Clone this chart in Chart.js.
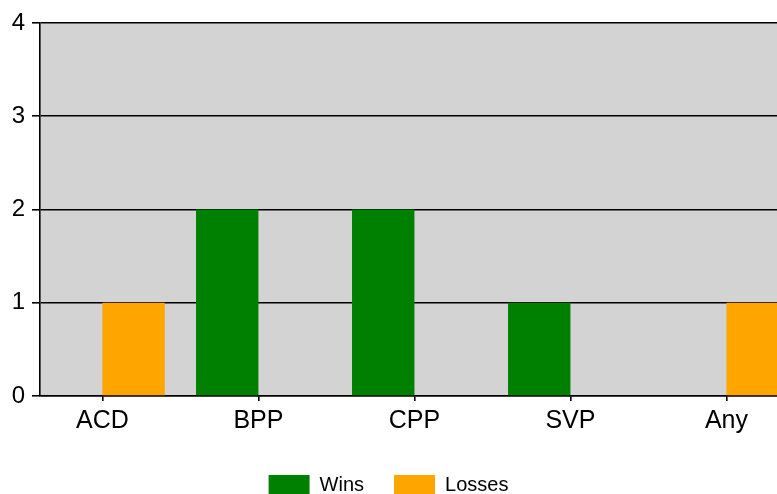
<!DOCTYPE html>
<html>
<head>
<meta charset="utf-8">
<script src="https://cdn.jsdelivr.net/npm/chart.js@4"></script>
<style>
  html, body { margin:0; padding:0; background:#fff; overflow:hidden; }
  #wrap { width:777px; height:505px; position:relative; }
</style>
</head>
<body>
<div id="wrap"><canvas id="c"></canvas></div>
<script>
// values
const categories = ["ACD", "BPP", "CPP", "SVP", "Any"];
const wins = [0, 2, 2, 1, 0];
const losses = [1, 0, 0, 0, 1];
const yTicks = [0, 1, 2, 3, 4];

const FONT = "'Liberation Sans', Arial, sans-serif";

const plotBg = {
  id: "plotBg",
  beforeDraw(chart) {
    const {ctx, chartArea:a} = chart;
    ctx.save();
    ctx.fillStyle = "#d3d3d3";
    ctx.fillRect(a.left, a.top, a.right - a.left, a.bottom - a.top);
    ctx.restore();
  }
};

const toPoints = vals => categories.map((c, i) => ({x:i, y:vals[i]}));

new Chart(document.getElementById("c"), {
  type:"bar",
  data:{
    datasets:[
      {label:"Wins", data:toPoints(wins), backgroundColor:"#008000", borderWidth:0},
      {label:"Losses", data:toPoints(losses), backgroundColor:"#ffa500", borderWidth:0}
    ]
  },
  options:{
    responsive:true, maintainAspectRatio:false, animation:false, devicePixelRatio:1,
    categoryPercentage:0.8, barPercentage:1.0,
    layout:{padding:{top:23, left:0, right:0, bottom:0}},
    plugins:{
      legend:{
        position:"bottom",
        labels:{color:"#000", font:{family:FONT, size:20}, boxWidth:41, boxHeight:20, padding:30}
      },
      tooltip:{enabled:false}
    },
    scales:{
      x:{
        type:"linear", min:-0.4, max:4.324, offset:false,
        afterBuildTicks:s => { s.ticks = categories.map((c, i) => ({value:i})); },
        afterFit:s => { s.height = 49; },
        ticks:{color:"#000", font:{family:FONT, size:25}, padding:5, maxRotation:0, autoSkip:false,
               callback:(v, i) => categories[i]},
        grid:{offset:false, drawOnChartArea:false, drawTicks:true, tickLength:5, color:"#000", lineWidth:1.6},
        border:{color:"#000", width:1.6}
      },
      y:{
        min:0, max:4,
        afterBuildTicks:s => { s.ticks = yTicks.map(v => ({value:v})); },
        afterFit:s => { s.width = 40; },
        ticks:{color:"#000", font:{family:FONT, size:24}, padding:7},
        grid:{color:"#000", lineWidth:1.6, tickLength:8, drawTicks:true},
        border:{color:"#000", width:1.6}
      }
    }
  },
  plugins:[plotBg]
});
</script>
</body>
</html>
